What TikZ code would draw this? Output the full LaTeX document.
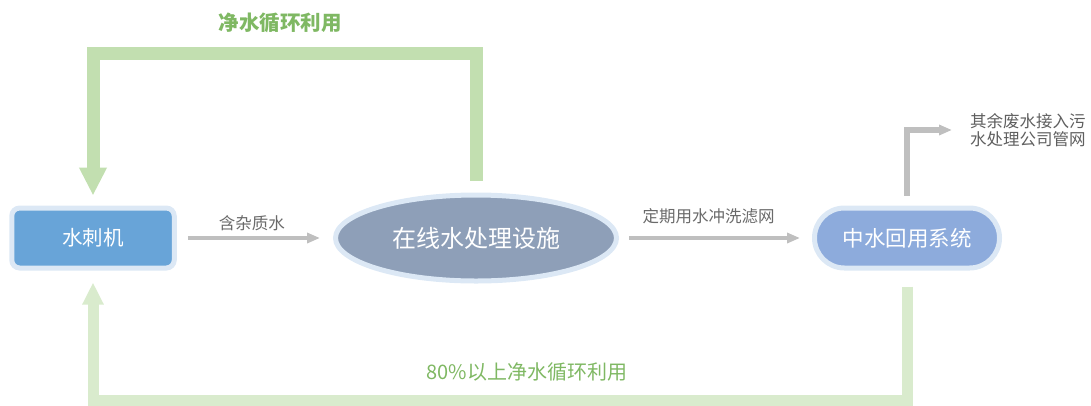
\documentclass[tikz,border=0pt]{standalone}
\usepackage{fontspec}
\setmainfont{Noto Sans CJK SC}
\usetikzlibrary{arrows.meta,shapes.geometric}

\definecolor{rim}{HTML}{DCE8F5}
\definecolor{jetblue}{HTML}{68A4D8}
\definecolor{procgray}{HTML}{8E9FB8}
\definecolor{reuseblue}{HTML}{8DABDC}
\definecolor{pipegray}{HTML}{BFBFBF}
\definecolor{txtgray}{HTML}{6A6A6A}
\definecolor{loopgreen}{HTML}{C2DFB0}
\definecolor{backgreen}{HTML}{D9EBCD}
\definecolor{labgreen}{HTML}{7FB863}

\begin{document}
\begin{tikzpicture}[x=1pt,y=-1pt,
unit/.style={draw=rim, line width=5pt, text=white, inner sep=0pt},
pipe/.style={draw=pipegray, line width=4.5pt, -{Triangle[width=10pt,length=13pt]}},
loop/.style={draw=loopgreen, line width=13pt, line join=miter, -{Triangle[width=26pt,length=28pt]}},
back/.style={draw=backgreen, line width=11pt, line join=miter, -{Triangle[width=20pt,length=22pt]}},
lbl/.style={text=txtgray, inner sep=0pt, font=\fontsize{16.5}{18}\selectfont},
glbl/.style={text=labgreen, inner sep=0pt}]
\useasboundingbox (0,0) rectangle (1091,405);

% units
\node[unit, fill=jetblue, rounded corners=8pt, minimum width=162.5pt, minimum height=60pt,
  font=\fontsize{20.5}{24}\selectfont] (jet) at (93,238) {水刺机};
\node[unit, fill=procgray, ellipse, minimum width=281pt, minimum height=86pt,
  font=\fontsize{24}{26}\selectfont] (proc) at (476,238) {在线水处理设施};
\node[unit, fill=reuseblue, rounded corners=29.9pt, minimum width=185pt, minimum height=60pt,
  font=\fontsize{21.5}{24}\selectfont] (reuse) at (907,238) {中水回用系统};
\node[lbl, align=left, text=txtgray!90!black, font=\fontsize{16.5}{17.5}\selectfont, anchor=west]
  (rest) at (970,130) {其余废水接入污\\水处理公司管网};

% gray pipes
\draw[pipe] ([xshift=11pt]jet.east) -- ([xshift=-13pt]proc.west)
  node[lbl, midway, xshift=-2pt, yshift=15pt] (dirty) {含杂质水};
\draw[pipe] ([xshift=10pt]proc.east) -- ([xshift=-12pt]reuse.west)
  node[lbl, midway, xshift=-6pt, yshift=22pt] (flush) {定期用水冲洗滤网};
\draw[pipe, line width=6pt, line join=miter] ([yshift=10pt]reuse.north) |- ([xshift=-18pt]rest.west);

% green loops
\draw[loop] ([yshift=12pt]proc.north) -- ++(0,-127) -| ([yshift=10pt]jet.north);
\draw[back] ([yshift=-16pt]reuse.south) -- ++(0,113.5) -| ([yshift=-12pt]jet.south);
\node[glbl, font=\fontsize{20.5}{24}\selectfont\bfseries] (toplbl) at (280,23) {净水循环利用};
\node[glbl, font=\fontsize{20}{22}\selectfont] (botlbl) at (527,372) {80\%以上净水循环利用};
\end{tikzpicture}
\end{document}
